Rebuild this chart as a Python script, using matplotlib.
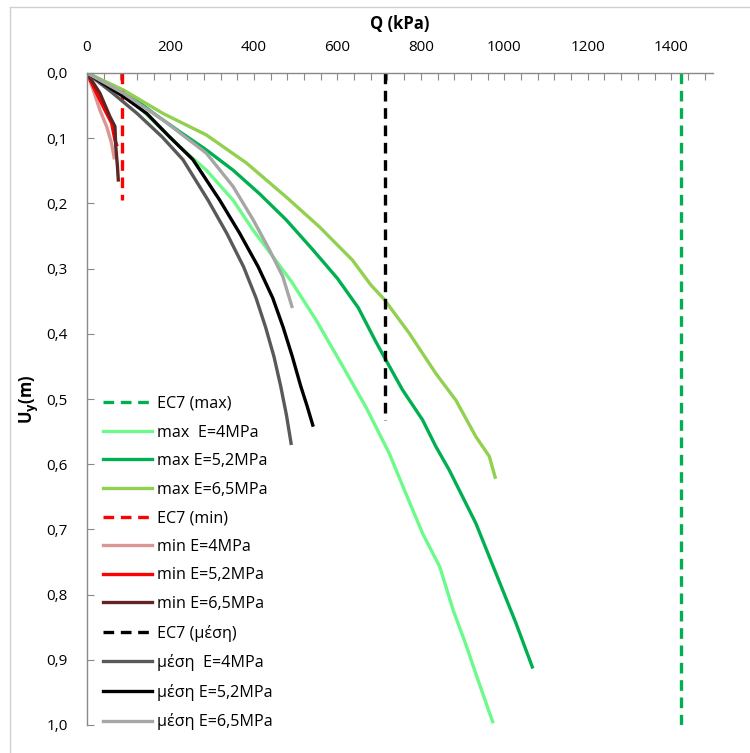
import matplotlib
matplotlib.use("Agg")
import matplotlib.pyplot as plt
from matplotlib.ticker import MultipleLocator, FuncFormatter
from matplotlib.lines import Line2D

plt.rcParams['font.family'] = ['Open Sans', 'DejaVu Sans']

# Load-settlement curves: Q (kPa) vs vertical displacement Uy (m)
q_max_4 = [0, 90, 150, 222, 286, 350, 398, 446, 490, 549, 613, 668, 724, 764, 804, 845, 878, 907, 939, 972]
u_max_4 = [0, 0.032, 0.068, 0.113, 0.149, 0.195, 0.241, 0.282, 0.320, 0.379, 0.450, 0.512, 0.583, 0.645, 0.706, 0.757, 0.825, 0.875, 0.935, 0.995]

q_max_52 = [0, 90, 160, 222, 286, 350, 413, 477, 541, 600, 650, 692, 716, 756, 804, 836, 868, 900, 932, 964, 996, 1028, 1067]
u_max_52 = [0, 0.028, 0.062, 0.090, 0.118, 0.149, 0.185, 0.225, 0.271, 0.315, 0.360, 0.412, 0.440, 0.486, 0.532, 0.573, 0.609, 0.650, 0.691, 0.742, 0.793, 0.844, 0.911]

q_max_65 = [0, 87, 182, 286, 382, 477, 557, 636, 680, 712, 772, 836, 884, 932, 964, 978]
u_max_65 = [0, 0.026, 0.062, 0.095, 0.138, 0.190, 0.236, 0.287, 0.325, 0.347, 0.399, 0.461, 0.502, 0.558, 0.588, 0.620]

q_min_4 = [0, 15, 31, 47, 59, 65]
u_min_4 = [0, 0.026, 0.057, 0.082, 0.108, 0.130]

q_min_52 = [0, 19, 43, 59, 67, 71]
u_min_52 = [0, 0.026, 0.057, 0.077, 0.103, 0.110]

q_min_65 = [0, 31, 55, 67, 69, 73, 75]
u_min_65 = [0, 0.031, 0.067, 0.082, 0.113, 0.144, 0.164]

q_mid_4 = [0, 60, 120, 180, 230, 290, 335, 375, 405, 428, 448, 464, 478, 489]
u_mid_4 = [0, 0.030, 0.062, 0.098, 0.133, 0.195, 0.246, 0.297, 0.345, 0.390, 0.435, 0.480, 0.525, 0.568]

q_mid_52 = [0, 87, 143, 198, 254, 318, 366, 410, 445, 470, 492, 512, 527, 541]
u_mid_52 = [0, 0.036, 0.062, 0.098, 0.133, 0.195, 0.246, 0.297, 0.345, 0.390, 0.435, 0.480, 0.510, 0.540]

q_mid_65 = [0, 87, 182, 286, 350, 398, 437, 469, 491]
u_mid_65 = [0, 0.031, 0.072, 0.123, 0.174, 0.225, 0.271, 0.312, 0.358]

# EC7 bearing capacities (kPa) and the depth range of each reference line
ec7_max, ec7_max_u = 1424, [0, 1.0]
ec7_min, ec7_min_u = 83, [0, 0.195]
ec7_mid, ec7_mid_u = 714, [0, 0.532]

fig = plt.figure(figsize=(7.5, 7.53), dpi=100)
W, H = 750, 753
ax = fig.add_axes([87 / W, 1 - 725 / H, (713 - 87) / W, (725 - 73) / H])

lw = 2.4
dash = (3.2, 2.0)
ax.plot([ec7_max, ec7_max], ec7_max_u, color='#00B050', lw=lw, ls=(0, dash), label='EC7 (max)')
ax.plot(q_max_4, u_max_4, color='#6CFA8A', lw=lw, label='max  E=4MPa')
ax.plot(q_max_52, u_max_52, color='#00B050', lw=lw, label='max E=5,2MPa')
ax.plot(q_max_65, u_max_65, color='#92D050', lw=lw, label='max E=6,5MPa')
ax.plot([ec7_min, ec7_min], ec7_min_u, color='#FF0000', lw=lw, ls=(0, dash), label='EC7 (min)')
ax.plot(q_min_4, u_min_4, color='#DA9694', lw=lw, label='min E=4MPa')
ax.plot(q_min_52, u_min_52, color='#FF0000', lw=lw, label='min E=5,2MPa')
ax.plot(q_min_65, u_min_65, color='#632523', lw=lw, label='min E=6,5MPa')
ax.plot([ec7_mid, ec7_mid], ec7_mid_u, color='#000000', lw=lw, ls=(0, dash), label='EC7 (μέση)')
ax.plot(q_mid_4, u_mid_4, color='#595959', lw=lw, label='μέση  E=4MPa')
ax.plot(q_mid_52, u_mid_52, color='#000000', lw=lw, label='μέση E=5,2MPa')
ax.plot(q_mid_65, u_mid_65, color='#A6A6A6', lw=lw, label='μέση E=6,5MPa')

ax.set_xlim(0, 1500)
ax.set_ylim(1.0, 0.0)

ax.xaxis.set_ticks_position('top')
ax.xaxis.set_label_position('top')
ax.xaxis.set_major_locator(MultipleLocator(200))
ax.xaxis.set_minor_locator(MultipleLocator(40))
ax.yaxis.set_major_locator(MultipleLocator(0.1))
ax.yaxis.set_major_formatter(FuncFormatter(lambda v, p: f"{v:.1f}".replace('.', ',')))

for s in ['right', 'bottom']:
    ax.spines[s].set_visible(False)
for s in ['left', 'top']:
    ax.spines[s].set_color('#898989')
    ax.spines[s].set_linewidth(1.0)

ax.tick_params(axis='x', which='both', direction='in', length=5, width=0.8, color='#898989',
               pad=13, labelsize=11, labelcolor='#000000')
ax.tick_params(axis='y', which='major', direction='in', length=5, width=0.8, color='#898989',
               pad=14, labelsize=11)

ax.set_xlabel('Q (kPa)', fontsize=12, fontweight='bold', labelpad=8)
ax.set_ylabel(r'U$_\mathbf{y}$(m)', fontsize=12, fontweight='bold', labelpad=4)

leg = ax.legend(loc='upper left', bbox_to_anchor=((103 - 87) / 626, 1 - (396 - 73) / 652),
                frameon=False, fontsize=11.6, handlelength=3.05, handletextpad=0.3,
                labelspacing=0.78, borderpad=0, borderaxespad=0)

# outer chart border
fig.add_artist(Line2D([10 / W, 10 / W], [0, 1 - 7 / H], color='#D0D0D0', lw=1.0))
fig.add_artist(Line2D([10 / W, 1], [1 - 7 / H, 1 - 7 / H], color='#D0D0D0', lw=1.0))

fig.savefig('out.png', dpi=100)
